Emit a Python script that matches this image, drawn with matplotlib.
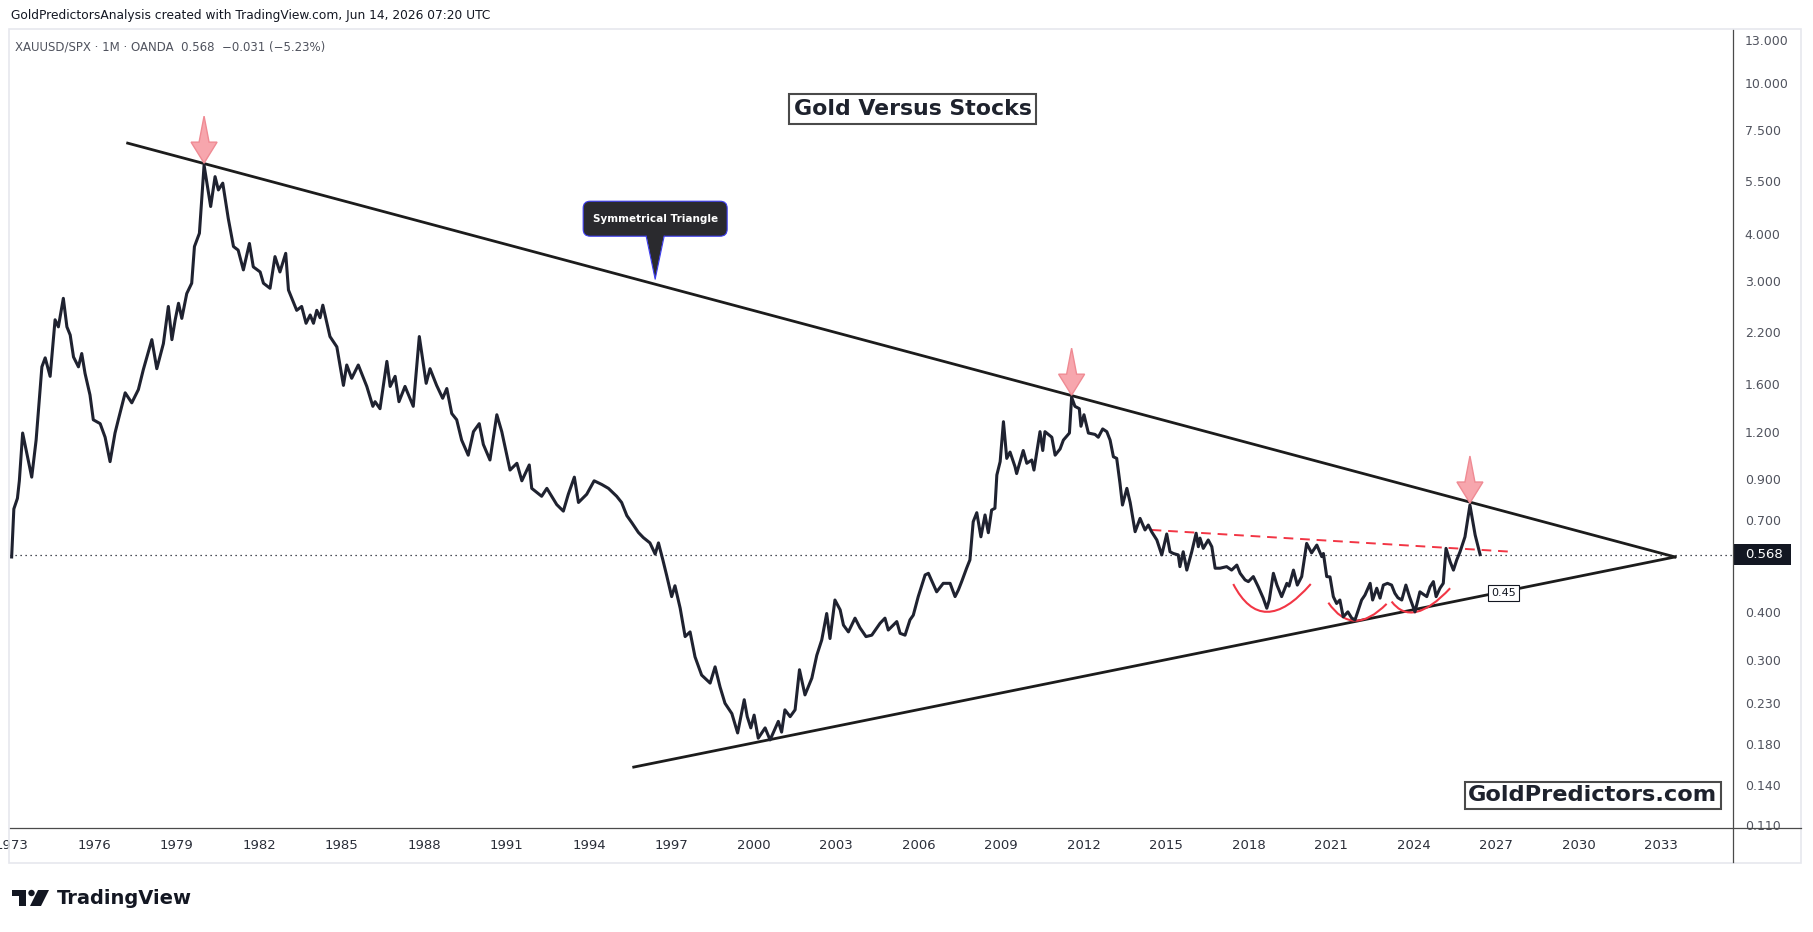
import numpy as np
import matplotlib
matplotlib.use("Agg")
import matplotlib.pyplot as plt
import matplotlib.transforms as mtransforms
from matplotlib.patches import Polygon, FancyBboxPatch, PathPatch, Rectangle, Circle
from matplotlib.path import Path
from matplotlib.lines import Line2D

# XAUUSD/SPX monthly closes (decimal year, ratio)
years = [1973.00, 1973.08, 1973.21, 1973.28, 1973.40, 1973.73, 1973.89, 1974.10, 1974.22, 1974.40,
         1974.58, 1974.70, 1974.88, 1975.01, 1975.13, 1975.25, 1975.43, 1975.55, 1975.67, 1975.85,
         1975.97, 1976.22, 1976.40, 1976.58, 1976.76, 1976.88, 1977.13, 1977.37, 1977.61, 1977.79,
         1978.10, 1978.28, 1978.52, 1978.70, 1978.83, 1978.95, 1979.07, 1979.19, 1979.37, 1979.55,
         1979.65, 1979.83, 1980.00, 1980.24, 1980.40, 1980.52, 1980.68, 1980.88, 1981.07, 1981.24,
         1981.43, 1981.65, 1981.79, 1982.04, 1982.16, 1982.40, 1982.58, 1982.76, 1982.97, 1983.07,
         1983.37, 1983.55, 1983.71, 1983.86, 1983.98, 1984.10, 1984.22, 1984.32, 1984.58, 1984.83,
         1985.07, 1985.19, 1985.37, 1985.61, 1985.92, 1986.14, 1986.22, 1986.40, 1986.65, 1986.77,
         1986.95, 1987.09, 1987.31, 1987.61, 1987.83, 1988.08, 1988.22, 1988.46, 1988.68, 1988.83,
         1989.01, 1989.19, 1989.37, 1989.61, 1989.80, 1990.01, 1990.16, 1990.40, 1990.65, 1990.83,
         1991.13, 1991.38, 1991.56, 1991.83, 1991.92, 1992.28, 1992.47, 1992.83, 1993.07, 1993.25,
         1993.47, 1993.62, 1993.92, 1994.19, 1994.47, 1994.71, 1995.01, 1995.19, 1995.38, 1995.56,
         1995.80, 1995.98, 1996.22, 1996.41, 1996.53, 1996.69, 1996.83, 1997.01, 1997.13, 1997.32,
         1997.50, 1997.68, 1997.86, 1998.10, 1998.41, 1998.59, 1998.77, 1998.95, 1999.20, 1999.41,
         1999.65, 1999.76, 1999.89, 2000.01, 2000.16, 2000.41, 2000.59, 2000.89, 2001.01, 2001.13,
         2001.32, 2001.50, 2001.66, 2001.86, 2002.11, 2002.29, 2002.47, 2002.65, 2002.77, 2002.95,
         2003.14, 2003.26, 2003.44, 2003.68, 2003.86, 2004.08, 2004.29, 2004.59, 2004.77, 2004.89,
         2005.20, 2005.32, 2005.50, 2005.68, 2005.80, 2005.98, 2006.23, 2006.35, 2006.65, 2006.89,
         2007.14, 2007.32, 2007.44, 2007.56, 2007.74, 2007.86, 2007.98, 2008.11, 2008.26, 2008.41,
         2008.53, 2008.65, 2008.77, 2008.84, 2008.96, 2009.08, 2009.20, 2009.32, 2009.50, 2009.56,
         2009.80, 2009.93, 2010.11, 2010.19, 2010.31, 2010.41, 2010.51, 2010.59, 2010.84, 2010.96,
         2011.14, 2011.26, 2011.48, 2011.56, 2011.68, 2011.84, 2011.90, 2012.01, 2012.17, 2012.41,
         2012.53, 2012.69, 2012.84, 2012.96, 2013.08, 2013.20, 2013.32, 2013.41, 2013.57, 2013.69,
         2013.87, 2014.05, 2014.23, 2014.35, 2014.47, 2014.66, 2014.84, 2015.02, 2015.14, 2015.26,
         2015.44, 2015.50, 2015.62, 2015.75, 2015.93, 2016.09, 2016.17, 2016.23, 2016.35, 2016.53,
         2016.66, 2016.78, 2016.96, 2017.20, 2017.38, 2017.57, 2017.69, 2017.87, 2017.99, 2018.17,
         2018.35, 2018.53, 2018.66, 2018.75, 2018.90, 2019.03, 2019.20, 2019.39, 2019.47, 2019.63,
         2019.77, 2019.93, 2020.11, 2020.29, 2020.48, 2020.66, 2020.72, 2020.84, 2020.96, 2021.08,
         2021.20, 2021.32, 2021.44, 2021.61, 2021.75, 2021.87, 2021.99, 2022.11, 2022.23, 2022.42,
         2022.51, 2022.66, 2022.78, 2022.90, 2023.05, 2023.20, 2023.32, 2023.43, 2023.57, 2023.72,
         2023.85, 2024.05, 2024.23, 2024.34, 2024.48, 2024.60, 2024.72, 2024.82, 2024.96, 2025.08,
         2025.18, 2025.33, 2025.45, 2025.57, 2025.69, 2025.87, 2026.05, 2026.24, 2026.42]
ratio = [0.56, 0.75, 0.80, 0.89, 1.19, 0.91, 1.14, 1.78, 1.88, 1.68,
         2.37, 2.27, 2.70, 2.27, 2.16, 1.89, 1.78, 1.93, 1.71, 1.50,
         1.29, 1.26, 1.16, 1.00, 1.19, 1.29, 1.52, 1.43, 1.55, 1.75,
         2.10, 1.76, 2.05, 2.57, 2.10, 2.37, 2.62, 2.39, 2.78, 2.96,
         3.70, 4.01, 6.07, 4.72, 5.66, 5.22, 5.44, 4.39, 3.70, 3.62,
         3.21, 3.77, 3.27, 3.17, 2.96, 2.87, 3.48, 3.17, 3.55, 2.84,
         2.51, 2.57, 2.32, 2.44, 2.32, 2.51, 2.40, 2.59, 2.14, 2.01,
         1.59, 1.80, 1.66, 1.80, 1.58, 1.40, 1.44, 1.38, 1.84, 1.58,
         1.68, 1.44, 1.58, 1.40, 2.14, 1.61, 1.76, 1.59, 1.47, 1.56,
         1.34, 1.29, 1.14, 1.04, 1.20, 1.26, 1.11, 1.01, 1.33, 1.20,
         0.95, 0.99, 0.89, 0.98, 0.85, 0.81, 0.85, 0.77, 0.74, 0.82,
         0.91, 0.78, 0.82, 0.89, 0.87, 0.85, 0.81, 0.78, 0.72, 0.69,
         0.65, 0.63, 0.61, 0.57, 0.61, 0.55, 0.50, 0.44, 0.47, 0.41,
         0.345, 0.355, 0.305, 0.273, 0.260, 0.287, 0.254, 0.230, 0.216, 0.192,
         0.235, 0.212, 0.198, 0.214, 0.186, 0.198, 0.184, 0.206, 0.193, 0.221,
         0.212, 0.221, 0.282, 0.242, 0.268, 0.308, 0.338, 0.397, 0.341, 0.431,
         0.406, 0.370, 0.355, 0.386, 0.364, 0.345, 0.348, 0.374, 0.386, 0.359,
         0.378, 0.352, 0.348, 0.382, 0.393, 0.440, 0.502, 0.507, 0.453, 0.477,
         0.477, 0.440, 0.458, 0.482, 0.523, 0.550, 0.694, 0.733, 0.633, 0.723,
         0.649, 0.745, 0.753, 0.922, 1.00, 1.275, 1.02, 1.06, 0.97, 0.93,
         1.07, 0.99, 1.01, 0.95, 1.08, 1.20, 1.07, 1.20, 1.16, 1.04,
         1.08, 1.14, 1.19, 1.48, 1.40, 1.38, 1.24, 1.33, 1.19, 1.18,
         1.16, 1.22, 1.20, 1.14, 1.03, 1.02, 0.876, 0.768, 0.85, 0.78,
         0.653, 0.708, 0.660, 0.680, 0.653, 0.621, 0.567, 0.644, 0.578, 0.572,
         0.567, 0.528, 0.578, 0.517, 0.578, 0.647, 0.596, 0.628, 0.590, 0.621,
         0.596, 0.523, 0.523, 0.528, 0.517, 0.533, 0.507, 0.487, 0.482, 0.497,
         0.467, 0.436, 0.410, 0.431, 0.507, 0.472, 0.440, 0.477, 0.469, 0.517,
         0.472, 0.497, 0.608, 0.574, 0.602, 0.561, 0.572, 0.497, 0.496, 0.440,
         0.422, 0.431, 0.389, 0.401, 0.386, 0.382, 0.406, 0.431, 0.444, 0.477,
         0.431, 0.463, 0.436, 0.472, 0.477, 0.472, 0.449, 0.437, 0.431, 0.472,
         0.440, 0.401, 0.453, 0.447, 0.440, 0.467, 0.482, 0.440, 0.463, 0.477,
         0.590, 0.544, 0.517, 0.550, 0.578, 0.633, 0.768, 0.640, 0.568]

# drawings on the chart
upper_years = [1977.22, 2033.51]
upper_vals = [6.94, 0.56]
lower_years = [1995.63, 2033.51]
lower_vals = [0.156, 0.56]
neck_years = [2014.47, 2027.57]
neck_vals = [0.66, 0.578]
cup_years = [[2017.44, 2018.67, 2020.26], [2020.90, 2021.87, 2023.02], [2023.20, 2024.11, 2025.33]]
cup_vals = [[0.475, 0.401, 0.475], [0.424, 0.380, 0.421], [0.427, 0.401, 0.463]]
peak_dates = [1980.00, 2011.56, 2026.05]
callout_date = 1996.41
label_date = 2027.27
label_value = 0.45
last_price = 0.568

price_ticks = [13, 10, 7.5, 5.5, 4, 3, 2.2, 1.6, 1.2, 0.9, 0.7, 0.4, 0.3, 0.23, 0.18, 0.14, 0.11]
year_ticks = list(range(1973, 2034, 3))

W, H = 1813, 932
fig = plt.figure(figsize=(W / 100, H / 100), dpi=100)
fig.patch.set_facecolor("white")
ax = fig.add_axes([10 / W, 1 - 828 / H, 1723 / W, 798 / H])
ax.set_yscale("log")
ax.set_xlim(1972.94, 2035.62)
ax.set_ylim(0.1077, 13.81)
for s in ax.spines.values():
    s.set_visible(False)

ax.minorticks_off()
ax.yaxis.tick_right()
ax.set_yticks(price_ticks)
ax.set_yticklabels(["%.3f" % v for v in price_ticks])
ax.tick_params(axis="y", length=0, pad=8.5, labelsize=9, labelcolor="#50535e")
ax.set_xticks(year_ticks)
ax.set_xticklabels([str(y) for y in year_ticks])
ax.tick_params(axis="x", length=0, pad=8, labelsize=9.5, labelcolor="#2a2e39")

line_col = "#1f2230"
ax.plot(years, ratio, color=line_col, lw=2.2, solid_joinstyle="round", zorder=5)

# triangle
ax.plot(upper_years, upper_vals, color="#1c1c1c", lw=2.0, zorder=4)
ax.plot(lower_years, lower_vals, color="#1c1c1c", lw=2.0, zorder=4)
ax.plot(neck_years, neck_vals, color="#f23645", lw=1.4, dashes=(5, 3.5), zorder=4)

# cups as quadratic curves through start / middle / end
for cy, cv in zip(cup_years, cup_vals):
    lv = np.log(cv)
    ctrl_x = 2 * cy[1] - (cy[0] + cy[2]) / 2
    ctrl_v = np.exp(2 * lv[1] - (lv[0] + lv[2]) / 2)
    p = Path([(cy[0], cv[0]), (ctrl_x, ctrl_v), (cy[2], cv[2])],
             [Path.MOVETO, Path.CURVE3, Path.CURVE3])
    ax.add_patch(PathPatch(p, fill=False, ec="#f23645", lw=1.5, zorder=4))

ax.axhline(last_price, color="#131722", lw=0.9, ls=(0, (1, 3)), zorder=3)


def anchor(x, y, tr=None):
    return mtransforms.ScaledTranslation(x, y, tr if tr is not None else ax.transData)


# pink arrows at the peaks
arrow_shape = [(0, 2), (13, 23), (5, 23), (0, 49), (-5, 23), (-13, 23)]
for d in peak_dates:
    v = ratio[years.index(d)]
    ax.add_patch(Polygon(arrow_shape, closed=True, transform=anchor(d, v),
                         fc="#f7a6ad", ec="#ef8a93", lw=1, zorder=6, clip_on=False))

# callout
cv = np.exp(np.interp(callout_date, upper_years, np.log(upper_vals)))
tr = anchor(callout_date, cv)
ax.add_patch(FancyBboxPatch((-72, 48), 144, 35, boxstyle="round,pad=0,rounding_size=7",
                            transform=tr, fc="#2a2a2e", ec="#3d3df0", lw=0.8, zorder=7, clip_on=False))
ax.add_patch(Polygon([(-9, 49.5), (9, 49.5), (0, 5)], closed=True, transform=tr,
                     fc="#2a2a2e", ec="none", zorder=7.5, clip_on=False))
ax.add_line(Line2D([-9, 0, 9], [48, 5, 48], transform=tr, color="#3d3df0", lw=0.8, zorder=7.6))
ax.annotate("Symmetrical Triangle", xy=(callout_date, cv), xytext=(0, 65.5),
            textcoords="offset pixels", ha="center", va="center", color="white",
            fontsize=7.5, fontweight="bold", zorder=8)

# trendline value label
ax.annotate("0.45", xy=(label_date, label_value), ha="center", va="center", fontsize=8,
            color="#131722", zorder=8,
            bbox=dict(boxstyle="square,pad=0.3", fc="white", ec="#131722", lw=0.8))

# last price tag on the price scale
blend = mtransforms.blended_transform_factory(ax.transAxes, ax.transData)
ax.add_patch(Rectangle((1, -10.5), 57, 21, transform=anchor(1.0, last_price, blend),
                       fc="#131722", ec="none", clip_on=False, zorder=9))
ax.annotate("%.3f" % last_price, xy=(1.0, last_price), xycoords=blend, xytext=(12, 0),
            textcoords="offset pixels", ha="left", va="center", fontsize=9.5,
            color="white", zorder=10, annotation_clip=False)

# frame and axis lines
fig.patches.append(Rectangle((9 / W, 1 - 863 / H), 1792 / W, 834 / H, transform=fig.transFigure,
                             fill=False, ec="#e6e8ee", lw=1.2))
fig.lines.append(Line2D([10 / W, 1801 / W], [1 - 828 / H] * 2, transform=fig.transFigure,
                        color="#4a4a4a", lw=0.9))
fig.lines.append(Line2D([1733 / W] * 2, [1 - 30 / H, 1 - 862 / H], transform=fig.transFigure,
                        color="#4a4a4a", lw=0.9))

# texts
fig.text(11 / W, 1 - 16 / H, "GoldPredictorsAnalysis created with TradingView.com, Jun 14, 2026 07:20 UTC",
         fontsize=8.8, color="#131722", va="center", ha="left")
fig.text(15 / W, 1 - 47 / H, "XAUUSD/SPX \u00b7 1M \u00b7 OANDA  0.568  \u22120.031 (\u22125.23%)",
         fontsize=8.5, color="#50535e", va="center", ha="left")
fig.text(912.5 / W, 1 - 108.8 / H, "Gold Versus Stocks", fontsize=15.8, fontweight="bold",
         color="#1e222d", ha="center", va="center",
         bbox=dict(boxstyle="square,pad=0.22", fc="white", ec="#4a4a4a", lw=1.5))
fig.text(1592.8 / W, 1 - 795.3 / H, "GoldPredictors.com", fontsize=16.2, fontweight="bold",
         color="#1e222d", ha="center", va="center",
         bbox=dict(boxstyle="square,pad=0.15", fc="white", ec="#4a4a4a", lw=1.5))

# TradingView logo
lg = mtransforms.Affine2D().scale(1, -1).translate(0, H)
fig.patches.append(Polygon([(12, 890), (26, 890), (26, 906), (19, 906), (19, 896), (12, 896)],
                           closed=True, transform=lg, fc="#131722", ec="none"))
fig.patches.append(Circle((31.5, 893), 3.2, transform=lg, fc="#131722", ec="none"))
fig.patches.append(Polygon([(38, 890), (49, 890), (41, 906), (30, 906)], closed=True,
                           transform=lg, fc="#131722", ec="none"))
fig.text(57 / W, 1 - 898 / H, "TradingView", fontsize=14, fontweight="bold",
         color="#131722", va="center", ha="left")

fig.savefig("out.png", dpi=100, facecolor="white")
